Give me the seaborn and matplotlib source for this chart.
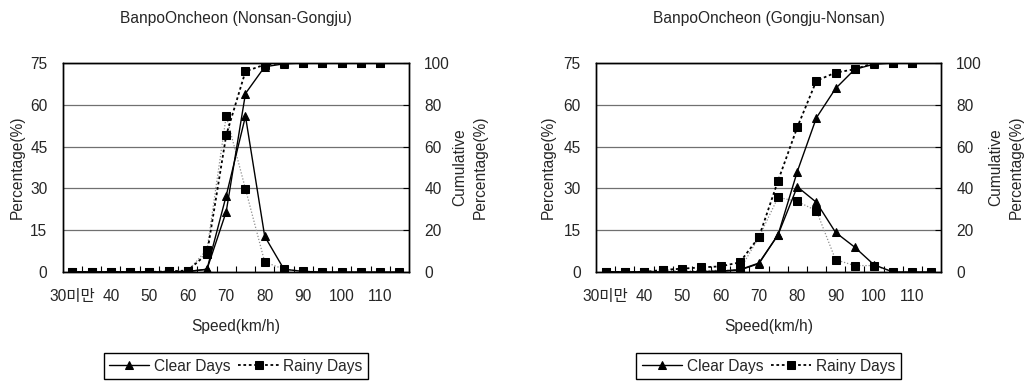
import numpy as np
import pandas as pd
import matplotlib
matplotlib.use("Agg")
import matplotlib.pyplot as plt
import seaborn as sns
from matplotlib.ticker import FixedLocator

# ---------------- data ----------------
categories = ['30미만', '35', '40', '45', '50', '55', '60', '65', '70', '75',
              '80', '85', '90', '95', '100', '105', '110', '115']
shown_labels = ['30미만', '', '40', '', '50', '', '60', '', '70', '',
                '80', '', '90', '', '100', '', '110', '']

titles = ['BanpoOncheon (Nonsan-Gongju)', 'BanpoOncheon (Gongju-Nonsan)']

# Nonsan-Gongju
clear_pct_ng = [0, 0, 0, 0, 0, 0, 0.2, 1.0, 27.4, 55.9, 12.8, 1.0, 0.2, 0, 0, 0, 0, 0]
rainy_pct_ng = [0, 0, 0, 0, 0, 0.3, 0.4, 8.0, 56.0, 29.8, 3.6, 1.0, 0.3, 0, 0, 0, 0, 0]
clear_cum_ng = [0, 0, 0, 0, 0, 0, 0.2, 1.3, 28.9, 85.4, 98.2, 99.6, 100, 100, 100, 100, 100]
rainy_cum_ng = [0, 0, 0, 0, 0, 0.3, 0.7, 8.7, 65.5, 96.0, 99.2, 100, 100, 100, 100, 100, 100]

# Gongju-Nonsan
clear_pct_gn = [0, 0, 0, 0, 0, 0.1, 0.3, 0.7, 3.0, 13.4, 30.6, 25.0, 14.2, 8.9, 2.6, 0, 0, 0]
rainy_pct_gn = [0, 0, 0, 0.8, 0.3, 0.5, 0.6, 0.8, 12.5, 26.8, 25.3, 22.0, 4.4, 2.3, 2.3, 0, 0, 0]
clear_cum_gn = [0, 0, 0, 0, 0, 0.1, 0.4, 1.1, 4.3, 17.8, 48.0, 73.8, 87.8, 97.0, 99.4, 100, 100]
rainy_cum_gn = [0, 0, 0, 1.0, 1.6, 2.2, 2.7, 4.6, 16.7, 43.7, 69.2, 91.5, 95.4, 97.0, 100, 100, 100]

panels = [
    (clear_pct_ng, rainy_pct_ng, clear_cum_ng, rainy_cum_ng),
    (clear_pct_gn, rainy_pct_gn, clear_cum_gn, rainy_cum_gn),
]

# ---------------- style ----------------
sns.set_style('white')
plt.rcParams['font.family'] = ['Liberation Sans', 'Noto Sans CJK KR', 'DejaVu Sans']
plt.rcParams['axes.unicode_minus'] = False

fig = plt.figure(figsize=(10.24, 3.81), dpi=100)
W, H = 1024, 381
boxes = [(62.7, 409.0), (596.0, 941.0)]
top_px, bot_px = 63.0, 272.0
ylab_x = [17.0, 548.0]
y2lab_x = [470.0, 1006.0]

FS = 11.2
for p, ((xl, xr), (cp, rp, cc, rc), title) in enumerate(zip(boxes, panels, titles)):
    ax = fig.add_axes([xl / W, 1 - bot_px / H, (xr - xl) / W, (bot_px - top_px) / H])
    ax2 = ax.twinx()

    x_all = np.arange(len(categories))
    x_cum = np.arange(len(cc))

    df_pct = pd.DataFrame({'x': x_all, 'clear': cp, 'rainy': rp})
    df_cum = pd.DataFrame({'x': x_cum, 'clear': cc, 'rainy': rc})

    # percentage (left axis)
    sns.lineplot(data=df_pct, x='x', y='rainy', ax=ax, color='#8c8c8c', lw=0.9,
                 linestyle=(0, (1, 1.5)), marker='s', markersize=6,
                 markerfacecolor='black', markeredgecolor='black', zorder=3)
    sns.lineplot(data=df_pct, x='x', y='clear', ax=ax, color='black', lw=1.0,
                 marker='^', markersize=6, markerfacecolor='black',
                 markeredgecolor='black', zorder=4)
    # cumulative (right axis)
    sns.lineplot(data=df_cum, x='x', y='rainy', ax=ax2, color='black', lw=1.3,
                 linestyle=(0, (1.5, 1.5)), marker='s', markersize=6,
                 markerfacecolor='black', markeredgecolor='black',
                 label='Rainy Days', zorder=3)
    sns.lineplot(data=df_cum, x='x', y='clear', ax=ax2, color='black', lw=1.0,
                 marker='^', markersize=6, markerfacecolor='black',
                 markeredgecolor='black', label='Clear Days', zorder=4)

    ax.set_xlim(-0.5, len(categories) - 0.5)
    ax.set_ylim(0, 75)
    ax2.set_ylim(0, 100)
    ax.set_yticks([0, 15, 30, 45, 60, 75])
    ax2.set_yticks([0, 20, 40, 60, 80, 100])
    ax.set_xticks(x_all)
    ax.set_xticklabels(shown_labels, fontsize=FS)
    ax.xaxis.set_minor_locator(FixedLocator(np.arange(0.5, len(categories) - 1, 1.0)))
    ax.tick_params(axis='x', which='major', length=0, pad=12, labelsize=FS)
    ax.tick_params(axis='x', which='minor', direction='in', length=4, width=0.8,
                   color='black', bottom=True)
    ax.tick_params(axis='y', which='major', length=0, pad=11, labelsize=FS)
    ax2.tick_params(axis='y', which='major', length=4, width=0.8, direction='in',
                    pad=11, labelsize=FS, color='black')

    ax.grid(axis='y', color='#707070', lw=0.9)
    ax.set_axisbelow(True)
    for a in (ax, ax2):
        for s in a.spines.values():
            s.set_color('black')
            s.set_linewidth(1.0)

    ax.set_xlabel('Speed(km/h)', fontsize=FS, labelpad=11)
    ax.set_ylabel('Percentage(%)', fontsize=FS)
    ax.yaxis.set_label_coords((ylab_x[p] - xl) / (xr - xl), 0.5)
    ax.yaxis.label.set_va('center')
    ax2.set_ylabel('Cumulative\nPercentage(%)', fontsize=FS, linespacing=1.4)
    ax2.yaxis.set_label_coords((y2lab_x[p] - xl) / (xr - xl), 0.5)
    ax2.yaxis.label.set_va('center')
    ax.set_title(title, fontsize=11.2, pad=29)

    if ax2.get_legend():
        ax2.get_legend().remove()
    if ax.get_legend():
        ax.get_legend().remove()

    h, lab = ax2.get_legend_handles_labels()
    order = [lab.index('Clear Days'), lab.index('Rainy Days')]
    cx = (xl + xr) / 2 / W
    fig.legend([h[i] for i in order], [lab[i] for i in order], ncol=2,
               loc='center', bbox_to_anchor=(cx, 1 - 366 / H),
               frameon=True, fancybox=False, edgecolor='black', fontsize=FS,
               handlelength=2.6, handletextpad=0.3, columnspacing=0.5,
               borderpad=0.35, framealpha=1)

fig.savefig('out.png', dpi=100)
